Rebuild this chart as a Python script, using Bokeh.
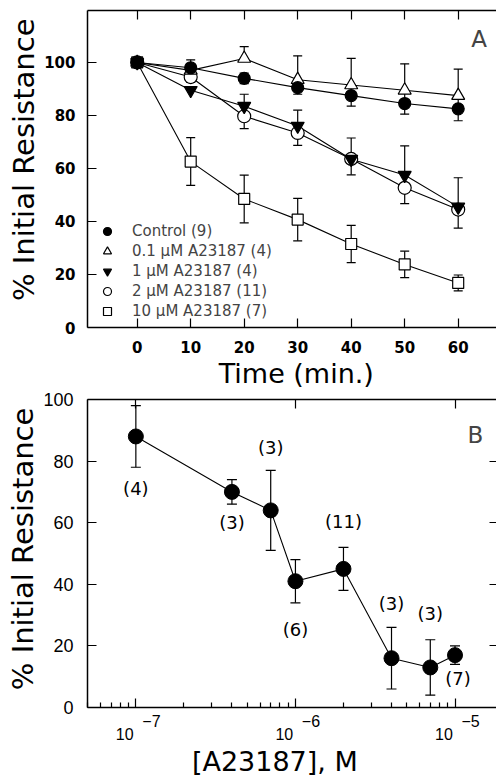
from bokeh.plotting import figure
from bokeh.models import (Range1d, FixedTicker, LinearAxis, LogAxis, Whisker, TeeHead,
                          ColumnDataSource, Legend, LegendItem, Label, CustomJSTickFormatter)
from bokeh.layouts import column
from bokeh.embed import file_html
from bokeh.resources import INLINE
from bokeh.core.properties import value

# ---------------- data: panel A ----------------
time_min = [0, 10, 20, 30, 40, 50, 60]
control = [100, 98, 94, 90.5, 87.5, 84.5, 82.5]
control_err = [1, 3, 2, 2.5, 4, 4, 4.5]
a01 = [100, 97, 101.5, 93.5, 91.5, 89.5, 87.5]
a01_err = [0, 2, 4.5, 9, 10, 10, 10]
a1 = [100, 89.5, 83.5, 76, 63.5, 57.5, 45.5]
a1_err = [0, 0, 4.5, 6, 8, 11, 11]
a2 = [100, 94.5, 79.7, 73.4, 63.6, 52.7, 44.5]
a2_err = [0, 2, 4.7, 4.7, 6, 6, 7]
a10 = [100, 62.6, 48.5, 40.7, 31.5, 23.8, 16.8]
a10_err = [0, 9, 9, 8, 7, 5, 3]
series_labels = ["Control (9)", "0.1 \u03bcM A23187 (4)", "1 \u03bcM A23187 (4)",
                 "2 \u03bcM A23187 (11)", "10 \u03bcM A23187 (7)"]
time_ticks = [0, 10, 20, 30, 40, 50, 60]
resist_ticks = [0, 20, 40, 60, 80, 100]

# ---------------- data: panel B ----------------
conc = [1e-7, 4e-7, 7e-7, 1e-6, 2e-6, 4e-6, 7e-6, 1e-5]
conc_resist = [88, 70, 64, 41, 45, 16, 13, 17]
conc_err = [10, 4, 13, 7, 7, 10, 9, 3]
conc_n = [4, 3, 3, 6, 11, 3, 3, 7]
conc_ticks = [1e-7, 1e-6, 1e-5]
conc_minor = [k * 10.0 ** e for e in (-8, -7, -6, -5) for k in range(2, 10)]
# label placement of the (n) annotations, in pixels (style, not data)
n_dx = [0, 0, 0, 0, 0, 0, 0, 3]
n_dy = [52, 31, -63, 48, -47, -55, -54, 23]

FONT = value("DejaVu Sans")
LW = 1.2
NB = "\u00a0"

# ================= panel A =================
p1 = figure(width=496, height=391, x_range=Range1d(-9.29, 67.16), y_range=Range1d(0, 119.6),
            output_backend="svg", toolbar_location=None,
            min_border_left=87, min_border_right=0, min_border_top=10, min_border_bottom=64)
p1.grid.visible = False
p1.outline_line_color = None
p1.background_fill_color = "white"

for ax in (p1.xaxis[0], p1.yaxis[0]):
    ax.axis_line_width = 1.5
    ax.major_tick_in = 9
    ax.major_tick_out = 0
    ax.minor_tick_line_color = None
    ax.major_tick_line_width = 1.2
    ax.major_label_text_font = "DejaVu Sans"
    ax.major_label_text_font_style = "bold"
    ax.major_label_text_font_size = "15px"
    ax.major_label_text_color = "black"
    ax.axis_label_text_font = "DejaVu Sans"
    ax.axis_label_text_font_style = "normal"
    ax.axis_label_text_color = "black"

p1.xaxis[0].ticker = FixedTicker(ticks=time_ticks)
p1.xaxis[0].major_label_standoff = 13
p1.xaxis[0].axis_label = NB + "Time (min.)"
p1.xaxis[0].axis_label_text_font_size = "27px"
p1.xaxis[0].axis_label_standoff = 2

p1.yaxis[0].ticker = FixedTicker(ticks=resist_ticks)
p1.yaxis[0].major_label_standoff = 12
p1.yaxis[0].axis_label = NB * 2 + "% Initial Resistance"
p1.yaxis[0].axis_label_text_font_size = "29px"
p1.yaxis[0].axis_label_standoff = 0

top1 = LinearAxis(ticker=FixedTicker(ticks=time_ticks), major_tick_in=9, major_tick_out=0,
                  minor_tick_line_color=None, axis_line_width=1.5, major_tick_line_width=1.2,
                  major_label_text_font_size="1px", major_label_text_alpha=0,
                  major_label_standoff=0)
p1.add_layout(top1, "above")

series = [
    (control, control_err, "circle", "black", 12, "both"),
    (a01, a01_err, "triangle", "white", 13, "up"),
    (a1, a1_err, "inverted_triangle", "black", 13, "up"),
    (a2, a2_err, "circle", "white", 13, "down"),
    (a10, a10_err, "square", "white", 11, "both"),
]

sources = []
for vals, errs, marker, fill, size, side in series:
    up = [v + e for v, e in zip(vals, errs)] if side in ("both", "up") else list(vals)
    lo = [v - e for v, e in zip(vals, errs)] if side in ("both", "down") else list(vals)
    src = ColumnDataSource(dict(x=time_min, y=vals, upper=up, lower=lo))
    p1.add_layout(Whisker(base="x", upper="upper", lower="lower", source=src,
                          line_color="black", line_width=LW,
                          upper_head=TeeHead(size=9, line_width=LW) if side in ("both", "up") else None,
                          lower_head=TeeHead(size=9, line_width=LW) if side in ("both", "down") else None))
    p1.line("x", "y", source=src, line_color="black", line_width=1.1)
    sources.append(src)

# markers drawn last-series-first so that Control sits on top
renderers = [None] * len(series)
for i in reversed(range(len(series))):
    vals, errs, marker, fill, size, side = series[i]
    renderers[i] = p1.scatter("x", "y", source=sources[i], marker=marker, size=size,
                              fill_color=fill, line_color="black", line_width=LW)

items = [LegendItem(label=lab, renderers=[r]) for lab, r in zip(series_labels, renderers)]
legend = Legend(items=items, location=(10, 6), padding=0, margin=0, spacing=0,
                label_height=20, glyph_height=20, glyph_width=20, label_standoff=15,
                border_line_color=None, background_fill_alpha=0,
                label_text_font="DejaVu Sans", label_text_font_size="15px")
p1.add_layout(legend, "center")

p1.add_layout(Label(x=63.9, y=108.9, text="A", text_font="DejaVu Sans", text_font_size="23px",
                    text_align="center", text_baseline="middle"))

# ================= panel B =================
p2 = figure(width=496, height=389, x_axis_type="log",
            x_range=Range1d(10 ** -7.303, 10 ** -4.74), y_range=Range1d(0, 100),
            output_backend="svg", toolbar_location=None,
            min_border_left=86, min_border_right=0, min_border_top=8, min_border_bottom=71)
p2.grid.visible = False
p2.outline_line_color = None
p2.background_fill_color = "white"

for ax in (p2.xaxis[0], p2.yaxis[0]):
    ax.axis_line_width = 1.5
    ax.major_tick_in = 9
    ax.major_tick_out = 0
    ax.major_tick_line_width = 1.2
    ax.major_label_text_font = "Liberation Sans"
    ax.major_label_text_font_size = "18px"
    ax.major_label_text_color = "black"
    ax.axis_label_text_font = "DejaVu Sans"
    ax.axis_label_text_font_style = "normal"
    ax.axis_label_text_color = "black"

p2.yaxis[0].ticker = FixedTicker(ticks=resist_ticks)
p2.yaxis[0].minor_tick_line_color = None
p2.yaxis[0].major_label_standoff = 14
p2.yaxis[0].axis_label = NB + "% Initial Resistance"
p2.yaxis[0].axis_label_text_font_size = "29px"
p2.yaxis[0].axis_label_standoff = 0

p2.xaxis[0].ticker = FixedTicker(ticks=conc_ticks, minor_ticks=conc_minor)
p2.xaxis[0].minor_tick_in = 5
p2.xaxis[0].minor_tick_out = 0
p2.xaxis[0].minor_tick_line_width = 1.2
p2.xaxis[0].formatter = CustomJSTickFormatter(code="""
const e = Math.round(Math.log10(tick));
const nb = '\\u00a0';
return nb.repeat(7) + '\\u2212' + Math.abs(e) + '\\n' + '10' + nb.repeat(5);
""")
p2.xaxis[0].major_label_text_font_size = "16px"
p2.xaxis[0].major_label_text_line_height = 0.8
p2.xaxis[0].major_label_standoff = 5
p2.xaxis[0].axis_label = "[A23187], M" + NB * 4
p2.xaxis[0].axis_label_text_font_size = "27px"
p2.xaxis[0].axis_label_standoff = 0

top2 = LogAxis(ticker=FixedTicker(ticks=conc_ticks), major_tick_in=9, major_tick_out=0,
               minor_tick_line_color=None, axis_line_width=1.5, major_tick_line_width=1.2,
               major_label_text_font_size="1px", major_label_text_alpha=0,
               major_label_standoff=0)
p2.add_layout(top2, "above")
right2 = LinearAxis(ticker=FixedTicker(ticks=resist_ticks), major_tick_in=7, major_tick_out=0,
                    minor_tick_line_color=None, axis_line_color=None, major_tick_line_width=1.2,
                    major_label_text_font_size="1px", major_label_text_alpha=0,
                    major_label_standoff=0)
p2.add_layout(right2, "right")

src2 = ColumnDataSource(dict(x=conc, y=conc_resist,
                             upper=[v + e for v, e in zip(conc_resist, conc_err)],
                             lower=[v - e for v, e in zip(conc_resist, conc_err)],
                             lab=["(%d)" % n for n in conc_n], dx=n_dx, dy=n_dy))
p2.add_layout(Whisker(base="x", upper="upper", lower="lower", source=src2,
                      line_color="black", line_width=LW,
                      upper_head=TeeHead(size=10, line_width=LW),
                      lower_head=TeeHead(size=10, line_width=LW)))
p2.line("x", "y", source=src2, line_color="black", line_width=1.1)
p2.scatter("x", "y", source=src2, marker="circle", size=15, fill_color="black",
           line_color="black")
p2.text("x", "y", text="lab", source=src2, x_offset="dx", y_offset="dy",
        text_font=FONT, text_font_size="18px", text_align="center",
        text_baseline="middle", text_color="black")

p2.add_layout(Label(x=1.343e-5, y=88.4, text="B", text_font="DejaVu Sans", text_font_size="23px",
                    text_align="center", text_baseline="middle"))

layout = column(p1, p2, spacing=0)
open("out.html", "w").write(file_html(layout, INLINE))
